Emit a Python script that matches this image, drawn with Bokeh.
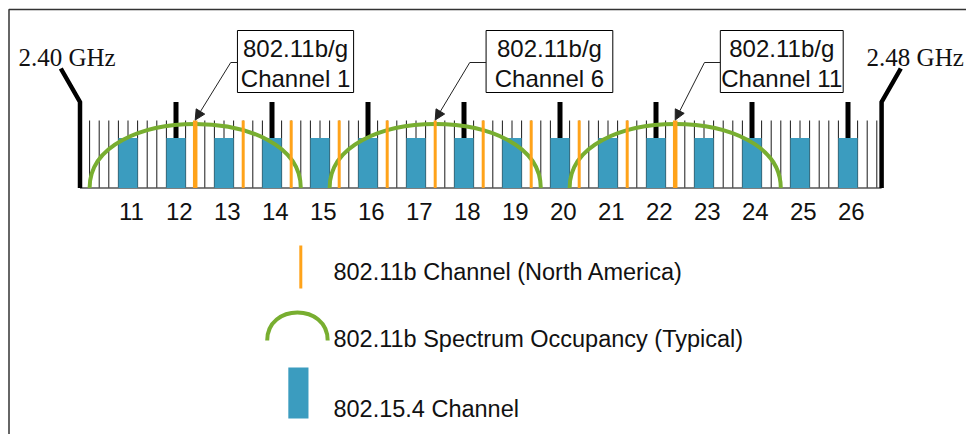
from bokeh.plotting import figure
from bokeh.models import Range1d, ColumnDataSource, Arrow, NormalHead
from bokeh.core.properties import value
from bokeh.embed import file_html
from bokeh.resources import INLINE

# ---------------- data ----------------
zigbee_channels = [11, 12, 13, 14, 15, 16, 17, 18, 19, 20, 21, 22, 23, 24, 25, 26]
zigbee_freqs = [2405, 2410, 2415, 2420, 2425, 2430, 2435, 2440,
                2445, 2450, 2455, 2460, 2465, 2470, 2475, 2480]
marked_zigbee_freqs = [2410, 2420, 2430, 2440, 2450, 2460, 2470, 2480]   # ch 12,14,...,26
wifi_channels = [1, 2, 3, 4, 5, 6, 7, 8, 9, 10, 11]
wifi_freqs = [2412, 2417, 2422, 2427, 2432, 2437, 2442, 2447, 2452, 2457, 2462]
wifi_bold_channels = [1, 11]
occupancy_channels = [1, 6, 11]
occupancy_centers = [2412, 2437, 2462]
occupancy_bandwidth = 22
band_edges = [2400, 2483.5]
band_labels = ["2.40 GHz", "2.48 GHz"]
grid_freqs = list(range(2401, 2484))
callout_line1 = ["802.11b/g", "802.11b/g", "802.11b/g"]
callout_line2 = ["Channel 1", "Channel 6", "Channel 11"]
legend_labels = ["802.11b Channel (North America)",
                 "802.11b Spectrum Occupancy (Typical)",
                 "802.15.4 Channel"]

# ---------------- layout / style ----------------
W, H = 966, 434
PX_PER_MHZ = 9.6
X_START = 2400 - 79.5 / PX_PER_MHZ
X_END = X_START + W / PX_PER_MHZ
Y_TOP = 187.5
Y_BOTTOM = Y_TOP - H

GRID_TOP = 67.5
BAR_TOP = 50
MARK_TOP = 86
ARC_CTRL = 85.3
SLANT_DX = 2.0
SLANT_TOP = 119.5
NUM_Y = -23.5
NUM_DX = 0.35
BAND_LABEL_Y = 130.5
BAND_LABEL_X = [2400 - 1.35, 2483.5 + 3.5]

BOX_LEFT = [2416.4, 2442.3, 2466.7]
BOX_RIGHT = [2428.5, 2455.5, 2479.5]
BOX_TOP, BOX_BOTTOM = 157.5, 95.5
BOX_TXT1, BOX_TXT2 = 139.5, 109.5
ARROW_Y0 = 125.5
ARROW_ELBOW = [2415.7, 2440.6, 2465.05]
ARROW_TIP_Y = 68

FRAME_X = X_START + 8.5 / PX_PER_MHZ
FRAME_Y = Y_TOP - 9

BLUE = "#3B9CBF"
ORANGE = "#FFA31A"
GREEN = "#78AE30"
SANS = value("Liberation Sans")
SERIF = value("Liberation Serif")

p = figure(width=W, height=H, output_backend="svg", toolbar_location=None,
           x_range=Range1d(X_START, X_END), y_range=Range1d(Y_BOTTOM, Y_TOP),
           x_axis_type=None, y_axis_type=None, min_border=0)
p.outline_line_color = None
p.grid.visible = False
p.background_fill_color = "white"

# frame (top and left edges only)
p.line([FRAME_X, FRAME_X, X_END], [Y_BOTTOM, FRAME_Y, FRAME_Y],
       line_color="#333333", line_width=1.5)

# 1 MHz grid
p.segment(x0=grid_freqs, y0=[0] * len(grid_freqs), x1=grid_freqs, y1=[GRID_TOP] * len(grid_freqs),
          line_color="#1a1a1a", line_width=1)
# baseline
p.segment(x0=[band_edges[0]], y0=[0], x1=[band_edges[1]], y1=[0], line_color="#555555", line_width=1.5)

# thick markers above even 802.15.4 channels
p.segment(x0=marked_zigbee_freqs, y0=[0] * len(marked_zigbee_freqs),
          x1=marked_zigbee_freqs, y1=[MARK_TOP] * len(marked_zigbee_freqs),
          line_color="black", line_width=5)

# 802.15.4 channels
p.vbar(x=zigbee_freqs, width=2.0, bottom=0, top=BAR_TOP, fill_color=BLUE, line_color=None)

# band edges
p.multi_line(xs=[[band_edges[0] - SLANT_DX, band_edges[0], band_edges[0]],
                 [band_edges[1] + SLANT_DX, band_edges[1], band_edges[1]]],
             ys=[[SLANT_TOP, MARK_TOP, 0], [SLANT_TOP, MARK_TOP, 0]],
             line_color="black", line_width=4.5, line_join="miter")

# 802.11b spectrum occupancy arcs
half = occupancy_bandwidth / 2
x0s = [c - half for c in occupancy_centers]
x1s = [c + half for c in occupancy_centers]
p.bezier(x0=x0s, y0=[0] * 3, x1=x1s, y1=[0] * 3, cx0=x0s, cy0=[ARC_CTRL] * 3,
         cx1=x1s, cy1=[ARC_CTRL] * 3, line_color=GREEN, line_width=4)

# 802.11b channels
widths = [4.5 if ch in wifi_bold_channels else 3 for ch in wifi_channels]
p.segment(x0=wifi_freqs, y0=[0] * len(wifi_freqs), x1=wifi_freqs, y1=[GRID_TOP] * len(wifi_freqs),
          line_color=ORANGE, line_width=widths)

# channel numbers
p.text(x=[f + NUM_DX for f in zigbee_freqs], y=[NUM_Y] * len(zigbee_freqs),
       text=[str(c) for c in zigbee_channels],
       text_font=SANS, text_font_size=value("24px"), text_align="center",
       text_baseline="middle", text_color="#111111")

# band labels
p.text(x=BAND_LABEL_X, y=[BAND_LABEL_Y] * 2, text=band_labels, text_font=SERIF,
       text_font_size=value("25px"), text_align="center", text_baseline="middle",
       text_color="#111111")

# callout boxes
p.quad(left=BOX_LEFT, right=BOX_RIGHT, top=BOX_TOP, bottom=BOX_BOTTOM,
       fill_color="white", line_color="black", line_width=1)
box_mid = [(l + r) / 2 for l, r in zip(BOX_LEFT, BOX_RIGHT)]
p.text(x=box_mid, y=[BOX_TXT1] * 3, text=callout_line1, text_font=SANS,
       text_font_size=value("24px"), text_align="center", text_baseline="middle", text_color="#111111")
p.text(x=box_mid, y=[BOX_TXT2] * 3, text=callout_line2, text_font=SANS,
       text_font_size=value("24px"), text_align="center", text_baseline="middle", text_color="#111111")

# callout arrows
p.segment(x0=BOX_LEFT, y0=[ARROW_Y0] * 3, x1=ARROW_ELBOW, y1=[ARROW_Y0] * 3,
          line_color="#222222", line_width=1)
arrow_src = ColumnDataSource(dict(xs=ARROW_ELBOW, ys=[ARROW_Y0] * 3,
                                  xe=occupancy_centers, ye=[ARROW_TIP_Y] * 3))
p.add_layout(Arrow(end=NormalHead(size=10, line_color="#222222", fill_color="#222222"),
                   x_start="xs", y_start="ys", x_end="xe", y_end="ye",
                   line_color="#222222", line_width=1, source=arrow_src))

# legend
LEG_TEXT_X = 2426.4
LEG_TEXT_Y = [-83.5, -150.5, -221]
p.segment(x0=[2423.0], y0=[-57.5], x1=[2423.0], y1=[-100.5], line_color=ORANGE, line_width=3)
p.bezier(x0=[2419.5], y0=[-152.5], x1=[2425.8], y1=[-152.5], cx0=[2419.5], cy0=[-152.5 + 37.3],
         cx1=[2425.8], cy1=[-152.5 + 37.3], line_color=GREEN, line_width=4)
p.quad(left=[2421.7], right=[2423.8], top=[-179.5], bottom=[-230.5], fill_color=BLUE, line_color=None)
p.text(x=[LEG_TEXT_X] * 3, y=LEG_TEXT_Y, text=legend_labels, text_font=SANS,
       text_font_size=value("23.5px"), text_align="left", text_baseline="middle", text_color="#111111")

open("out.html", "w").write(file_html(p, INLINE))
